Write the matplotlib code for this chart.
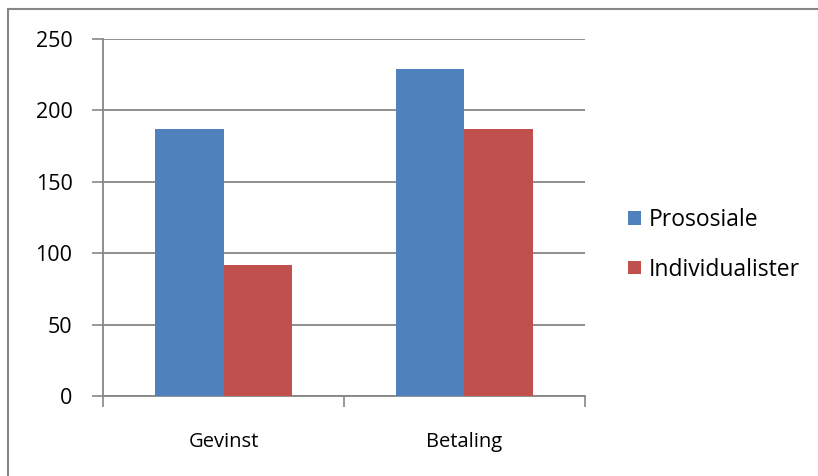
import matplotlib.pyplot as plt
import numpy as np
from matplotlib.lines import Line2D

# Chart data
categories = ["Gevinst", "Betaling"]
prososiale = [187, 229]
individualister = [92, 187]
series_names = ["Prososiale", "Individualister"]
colors = ["#4F81BD", "#C0504D"]

plt.rcParams['font.family'] = ['Open Sans', 'DejaVu Sans']

fig = plt.figure(figsize=(8.18, 4.76), dpi=100)
ax = fig.add_axes([0.126, 0.168, 0.589, 0.75])

x = np.arange(len(categories))
w = 0.2857
ax.bar(x - w / 2, prososiale, w, color=colors[0], label=series_names[0], zorder=3)
ax.bar(x + w / 2, individualister, w, color=colors[1], label=series_names[1], zorder=3)

ax.set_xlim(-0.5, 1.5)
ax.set_ylim(0, 250)
ax.set_yticks(range(0, 251, 50))
ax.yaxis.grid(True, color="#868686", linewidth=1.3, zorder=0)

# category axis ticks sit between the groups
ax.set_xticks([-0.5, 0.5, 1.5])
ax.set_xticklabels([])
ax.set_xticks(x, minor=True)
ax.set_xticklabels(categories, minor=True, fontsize=14.5)
ax.tick_params(axis="x", which="minor", length=0, pad=26)
ax.tick_params(axis="x", which="major", length=8, width=1.2, color="#868686", direction="out")
ax.tick_params(axis="y", length=8, width=1.2, color="#868686", direction="out", labelsize=15.5, pad=14)

for side in ["top", "right"]:
    ax.spines[side].set_visible(False)
for side in ["left", "bottom"]:
    ax.spines[side].set_color("#868686")
    ax.spines[side].set_linewidth(1.3)

fig.legend(loc="center left", bbox_to_anchor=(0.768, 1 - 245 / 476), frameon=False,
           fontsize=16.5, handlelength=0.55, handleheight=0.55, handletextpad=0.35,
           labelspacing=1.1, borderaxespad=0, borderpad=0)

# chart frame, cut off at the right and bottom edges
fx, fy = 7.5 / 818, 1 - 8.5 / 476
fig.add_artist(Line2D([fx, 1], [fy, fy], transform=fig.transFigure,
                      color="#868686", linewidth=1.5))
fig.add_artist(Line2D([fx, fx], [0, fy], transform=fig.transFigure,
                      color="#868686", linewidth=1.5))

fig.savefig("out.png", dpi=100)
